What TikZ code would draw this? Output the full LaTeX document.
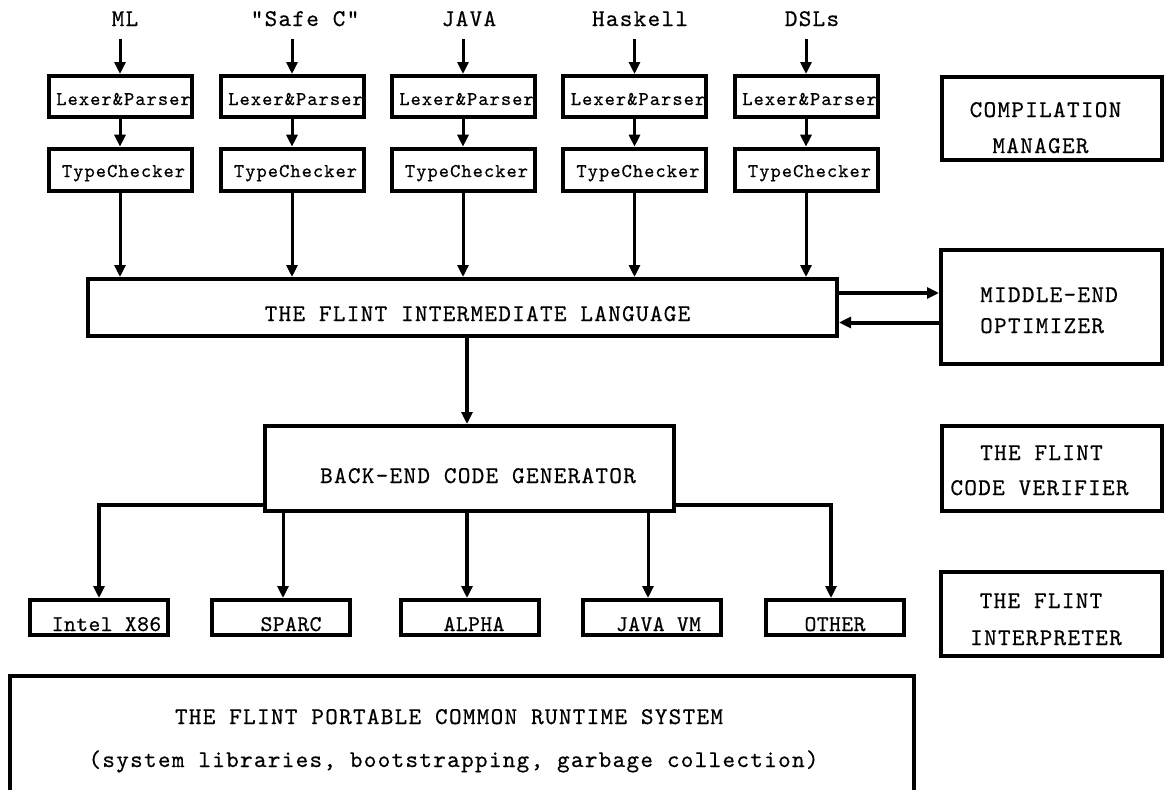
\documentclass[tikz,border=0pt]{standalone}
\usepackage{fontspec}
\usetikzlibrary{arrows.meta}
\newfontfamily\flinttt{lmmono10-regular.otf}[LetterSpace=5.4, FakeBold=0.5]
\newfontfamily\flintnarrow{lmmono10-regular.otf}[LetterSpace=2, FakeBold=0.5]
\tikzset{
  box/.style={draw, line width=4pt, rectangle, inner sep=0pt},
  conn/.style={line width=3pt, -{Triangle[length=12pt,width=11pt]}},
  thickconn/.style={line width=4pt, -{Triangle[length=12pt,width=11pt]}},
  bigtxt/.style={font=\flinttt\fontsize{24}{28}\selectfont, inner sep=0pt, anchor=base},
  smalltxt/.style={font=\flinttt\fontsize{19.5}{23}\selectfont, inner sep=0pt, anchor=base},
  tgttxt/.style={font=\flintnarrow\fontsize{22.5}{26}\selectfont, inner sep=0pt, anchor=base},
}
\begin{document}
\begin{tikzpicture}[x=1pt,y=-1pt]
\useasboundingbox (0,0) rectangle (1165,790);

% front ends
\foreach \cx/\n/\lab/\lx in {120/1/ML/125, 292/2/{"Safe C"}/305, 463/3/JAVA/469, 634.5/4/Haskell/640, 806/5/DSLs/812}{
  \node[bigtxt] (lang\n) at (\lx,26) {\lab};
  \node[box, minimum width=143pt, minimum height=40.5pt] (lex\n) at (\cx,96.25) {};
  \node[smalltxt] (lext\n) at (\cx+3.5,105) {Lexer\&Parser};
  \node[box, minimum width=143pt, minimum height=42pt] (tc\n) at (\cx,169.7) {};
  \node[smalltxt] (tct\n) at (\cx+3.5,177) {TypeChecker};
  \draw[conn] ([yshift=-13pt]lex\n.north |- lang\n.base) -- (lex\n.north);
  \draw[conn] (lex\n.south) -- (tc\n.north);
}

% intermediate language
\node[box, minimum width=749pt, minimum height=57pt] (il) at (462.5,307.5) {};
\node[bigtxt] (ilt) at (477.5,321) {THE FLINT INTERMEDIATE LANGUAGE};
\foreach \n in {1,...,5}{
  \draw[conn] (tc\n.south) -- (tc\n.south |- il.north);
}

% right column
\node[box, minimum width=220pt, minimum height=83pt] (comp) at (1052,118.5) {};
\node[bigtxt] (compa) at (1045.5,117) {COMPILATION};
\node[bigtxt] (compb) at (1040.5,153) {MANAGER};

\node[box, minimum width=221pt, minimum height=114pt] (mid) at (1051.5,307) {};
\node[bigtxt, anchor=base west] (mida) at (980,302) {MIDDLE-END};
\node[bigtxt, anchor=base west] (midb) at (980,333) {OPTIMIZER};

\node[box, minimum width=220pt, minimum height=85pt] (ver) at (1052,468.5) {};
\node[bigtxt] (vera) at (1041.5,460) {THE FLINT};
\node[bigtxt] (verb) at (1039.5,495) {CODE VERIFIER};

\node[box, minimum width=221pt, minimum height=84pt] (interp) at (1051.5,614) {};
\node[bigtxt] (interpa) at (1041,608) {THE FLINT};
\node[bigtxt] (interpb) at (1046,645) {INTERPRETER};

\draw[thickconn] ([yshift=14.5pt]il.east) -- ([yshift=14.5pt]il.east -| mid.west);
\draw[thickconn] ([yshift=-15.5pt]mid.west) -- ([yshift=-15.5pt]mid.west -| il.east);

% back end
\node[box, minimum width=409pt, minimum height=85pt] (be) at (469.5,468.5) {};
\node[bigtxt] (bet) at (478,483) {BACK-END CODE GENERATOR};
\draw[thickconn] ([xshift=4.5pt]il.south) -- ([xshift=4.5pt]il.south |- be.north);

% targets
\node[box, minimum width=138pt, minimum height=35pt] (intel) at (99,617.5) {};
\node[tgttxt] (intelt) at (106.5,631) {Intel X86};
\node[box, minimum width=138pt, minimum height=35pt] (sparc) at (281,617.5) {};
\node[tgttxt] (sparct) at (291,631) {SPARC};
\node[box, minimum width=138pt, minimum height=35pt] (alpha) at (470,617.5) {};
\node[tgttxt] (alphat) at (474,631) {ALPHA};
\node[box, minimum width=138pt, minimum height=35pt] (jvm) at (652,617.5) {};
\node[tgttxt] (jvmt) at (658.5,631) {JAVA VM};
\node[box, minimum width=138pt, minimum height=35pt] (other) at (835,617.5) {};
\node[tgttxt] (othert) at (835,631) {OTHER};

\draw[thickconn] ([yshift=-36.5pt]be.west) -| (intel.north);
\draw[conn] ([xshift=2pt]sparc.north |- be.south) -- ([xshift=2pt]sparc.north);
\draw[thickconn] ([xshift=-3pt]alpha.north |- be.south) -- ([xshift=-3pt]alpha.north);
\draw[conn] ([xshift=-4pt]jvm.north |- be.south) -- ([xshift=-4pt]jvm.north);
\draw[thickconn] ([yshift=-36.5pt]be.east) -| ([xshift=-4pt]other.north);

% runtime system (bottom edge cut off by the picture)
\node[rectangle, inner sep=0pt, minimum width=904pt, minimum height=116pt] (rt) at (462,734) {};
\draw[line width=4pt] (rt.south west) -- (rt.north west) -- (rt.north east) -- (rt.south east);
\node[bigtxt] (rta) at (449,724) {THE FLINT PORTABLE COMMON RUNTIME SYSTEM};
\node[bigtxt] (rtb) at (453.5,767) {(system libraries, bootstrapping, garbage collection)};
\end{tikzpicture}
\end{document}
